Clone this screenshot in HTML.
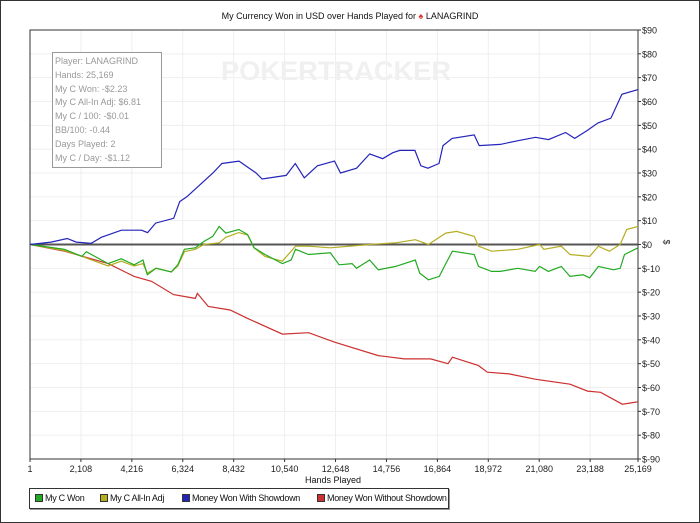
<!DOCTYPE html>
<html><head><meta charset="utf-8"><style>
body{margin:0;background:#fff;}
#wrap{position:relative;width:698px;height:521px;border:1px solid #333;background:#fff;overflow:hidden;font-family:"Liberation Sans",sans-serif;}
svg text{font-family:"Liberation Sans",sans-serif;}
.lg{position:absolute;top:6px;white-space:nowrap;letter-spacing:-0.3px;}
.lg i{display:inline-block;width:6px;height:6px;border:1px solid #333;margin-right:2px;vertical-align:-1px;}
</style></head><body>
<div id="wrap">
<svg id="chart" width="698" height="521"></svg>
</div>
<script>
const blueHands=[0,874,1539,1913,2538,2954,3786,4618,4867,5200,5949,6198,6490,7030,7571,7946,8653,9360,9610,10608,10982,11357,11898,12605,12854,13520,14061,14602,15018,15309,15933,16183,16474,16932,17098,17472,18388,18596,19469,20177,20926,21466,22174,22548,23089,23505,24046,24504,25169];
const blueVals=[0,1,2.5,1,0.5,3,6,6,5,9,11,18,20,25,30,34,35,30,27.5,29,34,28,33,35,30,32,38,36,38.5,39.5,39.5,33,32,34,41.5,44.5,46,41.5,42,43.5,45,44,47,44.5,48,51,53,63,65];
const greenHands=[0,1430,2152,2332,3234,3775,4316,4677,4858,5218,5850,6120,6391,6842,7203,7564,7834,8105,8646,9007,9277,9728,10450,10811,10991,11532,12434,12795,13336,13517,14058,14419,15140,15501,15952,16133,16493,16944,17215,17486,18388,18568,19109,19470,20192,20913,21094,21454,21996,22356,22898,23168,23529,24160,24431,24611,25169];
const greenVals=[0,-2,-5,-3,-8,-6,-8.5,-6.5,-12.7,-10,-11.5,-8.5,-2,-1.4,1.3,3.4,7.6,4.8,6.3,4.2,-1.4,-4.2,-8,-6.5,-2,-4.2,-3.5,-8.5,-8,-10,-6.5,-10.6,-9.2,-8,-6.5,-12,-14.8,-13.4,-8,-2.8,-4.2,-9.2,-11.3,-11.3,-10,-11.3,-9.2,-11.3,-9.2,-13.4,-12.7,-14,-9.2,-10.6,-10,-4.2,-1.4];
const yellowHands=[0,1430,2152,3234,3775,4316,4677,4858,5218,5850,6120,6391,6842,7203,7834,8105,8646,9007,9277,9728,10450,10991,11532,12434,14058,15140,15952,16493,17215,17666,18388,18568,19109,20192,21094,21274,21996,22356,23168,23529,23980,24431,24701,25169];
const yellowVals=[0,-2.5,-5,-9,-7,-9,-8,-12,-10,-11.5,-9,-3,-2,0,0.7,3,5,4,-1.4,-5,-7,-0.7,-0.7,-1.4,0,0.7,2,0,4.8,5.5,3.4,-0.7,-2.8,-2,0,-2,-0.7,-4.2,-5,-0.7,-2.8,0,6.3,7.6];
const redHands=[0,1430,3234,4316,5038,5940,6842,6932,7383,8285,9007,10450,11532,12614,14419,15501,16584,17306,17486,18568,18929,19831,20913,22356,23078,23619,24521,25169];
const redVals=[0,-2.8,-8,-13.4,-15.5,-21,-22.6,-20.5,-26,-27.5,-31,-37.6,-37,-41,-46.6,-48,-48,-50,-47.3,-50.8,-53.6,-54.3,-56.5,-58.6,-61.5,-62,-67,-66];
const xTicks=[1,2108,4216,6324,8432,10540,12648,14756,16864,18972,21080,23188,25169];
const yTicks=[90,80,70,60,50,40,30,20,10,0,-10,-20,-30,-40,-50,-60,-70,-80,-90];

const NS="http://www.w3.org/2000/svg";
const svg=document.getElementById('chart');
const L=29,R=637,T=29,B=458;
function xs(h){return L+(h-1)/(25169-1)*(R-L);}
function ys(v){return T+(90-v)/180*(B-T);}
function mk(tag,attrs,parent){const e=document.createElementNS(NS,tag);for(const k in attrs)e.setAttribute(k,attrs[k]);(parent||svg).appendChild(e);return e;}
function fmtY(v){return v<0?'$-'+Math.abs(v):'$'+v;}
function fmtX(v){return v.toLocaleString('en-US');}

xTicks.forEach(t=>{const e=mk('line',{x1:xs(t),x2:xs(t),y1:T,y2:B,stroke:'#efefef'});

});
yTicks.forEach(t=>{const e=mk('line',{x1:L,x2:R,y1:ys(t),y2:ys(t),stroke:'#efefef'});

});

const wm=mk('text',{x:220,y:79,'font-size':27,'font-weight':'bold',fill:'#f0f0f0',textLength:230,lengthAdjust:'spacingAndGlyphs'});
wm.textContent='POKERTRACKER';



const pb=mk('rect',{x:L,y:T,width:R-L,height:B-T,fill:'none',stroke:'#333'});



const zl=mk('line',{x1:L,x2:R,y1:ys(0),y2:ys(0),stroke:'#555','stroke-width':2});



yTicks.forEach(t=>{const y=ys(t);
const tk=mk('line',{x1:R,x2:R+3,y1:y,y2:y,stroke:'#333'});


const tx=mk('text',{x:R+4,y:y+3.5,'font-size':9,fill:'#222'});tx.textContent=fmtY(t);

});
xTicks.forEach(t=>{const x=xs(t);
const tk=mk('line',{x1:x,x2:x,y1:B,y2:B+3,stroke:'#333'});


const tx=mk('text',{x:x,y:B+13,'font-size':9,'text-anchor':'middle',fill:'#222'});tx.textContent=fmtX(t);

});

function series(h,v,color,name){
 let d='';h.forEach((hh,i)=>{d+=(i?'L':'M')+xs(hh).toFixed(1)+','+ys(v[i]).toFixed(1);});
 const p=mk('path',{d:d,fill:'none',stroke:color,'stroke-width':1.2});
 
 
}
series(redHands,redVals,'#cc3030','line-without-showdown');
series(yellowHands,yellowVals,'#b5ad20','line-all-in-adj');
series(greenHands,greenVals,'#22aa22','line-my-c-won');
series(blueHands,blueVals,'#2424bb','line-with-showdown');
</script>
<div style="position:absolute;left:0;top:11px;width:700px;text-align:center;font:9px 'Liberation Sans',sans-serif;color:#111;">My Currency Won in USD over Hands Played for <span style="color:#d33">&#9824;</span> LANAGRIND</div>
<div style="position:absolute;left:52px;top:52px;width:110px;height:116px;border:1px solid #999;background:#fff;font:9px 'Liberation Sans',sans-serif;color:#999;line-height:13.8px;padding:2px 0 0 2px;box-sizing:border-box;white-space:nowrap;">
Player: LANAGRIND<br>Hands: 25,169<br>My C Won: -$2.23<br>My C All-In Adj: $6.81<br>My C / 100: -$0.01<br>BB/100: -0.44<br>Days Played: 2<br>My C / Day: -$1.12</div>
<div style="position:absolute;left:664px;top:237px;font:9px 'Liberation Sans',sans-serif;transform:rotate(90deg);color:#222;">$</div>
<div style="position:absolute;left:0;top:475px;width:666px;text-align:center;font:9px 'Liberation Sans',sans-serif;color:#111;">Hands Played</div>
<div style="position:absolute;left:29px;top:488px;width:420px;height:21px;border:1px solid #333;box-shadow:1px 1px 0 #999;font:9px 'Liberation Sans',sans-serif;color:#111;box-sizing:border-box;">
<span class="lg" style="left:5px;top:4px;"><i style="background:#22aa22;"></i>My C Won</span>
<span class="lg" style="left:70px;top:4px;"><i style="background:#b5ad20;"></i>My C All-In Adj</span>
<span class="lg" style="left:152px;top:4px;"><i style="background:#2424bb;"></i>Money Won With Showdown</span>
<span class="lg" style="left:287px;top:4px;"><i style="background:#cc3030;"></i>Money Won Without Showdown</span>
</div>
</body></html>
